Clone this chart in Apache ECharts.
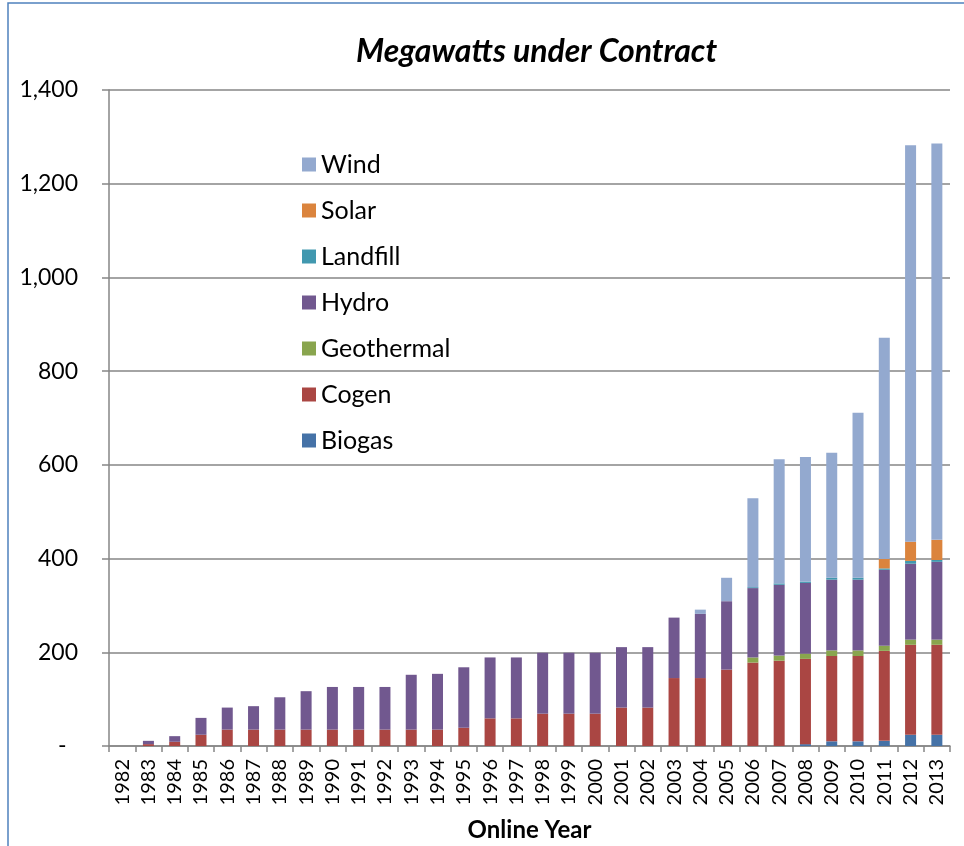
<!DOCTYPE html>
<html>
<head>
<meta charset="utf-8">
<script src="https://cdn.jsdelivr.net/npm/echarts@6/dist/echarts.min.js"></script>
<style>
html,body{margin:0;padding:0;background:#fff;overflow:hidden;}
#chart{width:964px;height:846px;}
</style>
</head>
<body>
<div id="chart"></div>
<script>
const years = ['1982','1983','1984','1985','1986','1987','1988','1989','1990','1991','1992','1993','1994','1995','1996','1997','1998','1999','2000','2001','2002','2003','2004','2005','2006','2007','2008','2009','2010','2011','2012','2013'];
const biogas     = [0,0,0,0,0,0,0,0,0,0,0,0,0,0,0,0,0,0,0,0,0,0,0,0,0,0,4,10,10,11,24,24];
const cogen      = [0,4,9,24,35,35,35,35,35,35,35,35,35,39,59,59,69,69,69,82,82,145,145,163,178,182,182,182,182,192,192,192];
const geothermal = [0,0,0,0,0,0,0,0,0,0,0,0,0,0,0,0,0,0,0,0,0,0,0,0,11,11,11,12,12,11,11,11];
const hydro      = [0,7,12,36,47,50,69,82,91,91,91,117,119,129,130,130,130,130,130,129,129,129,137,146,148,151,151,151,151,162,162,166];
const landfill   = [0,0,0,0,0,0,0,0,0,0,0,0,0,0,0,0,0,0,0,0,0,0,0,0,2,3,3,4,4,3,6,4];
const solar      = [0,0,0,0,0,0,0,0,0,0,0,0,0,0,0,0,0,0,0,0,0,0,0,0,0,0,0,0,0,20,41,43];
const wind       = [0,0,0,0,0,0,0,0,0,0,0,0,0,0,0,0,0,0,0,0,0,0,9,50,190,265,266,267,352,472,846,846];
const yTicks = [0,200,400,600,800,1000,1200,1400];

const FONT = 'Lato, "Open Sans", sans-serif';
const seriesDefs = [
  ['Biogas', biogas, '#4572A7'],
  ['Cogen', cogen, '#AA4643'],
  ['Geothermal', geothermal, '#89A54E'],
  ['Hydro', hydro, '#71588F'],
  ['Landfill', landfill, '#4198AF'],
  ['Solar', solar, '#DB843D'],
  ['Wind', wind, '#93A9CF']
];

const chart = echarts.init(document.getElementById('chart'), null, {renderer:'canvas'});
chart.setOption({
  animation: false,
  backgroundColor: '#fff',
  textStyle: {fontFamily: FONT},
  title: {
    text: 'Megawatts under Contract',
    left: 351, top: 31,
    textStyle: {fontFamily: FONT, fontSize: 32, fontWeight: 'bold', fontStyle: 'italic', color: '#000'}
  },
  graphic: [{
    type: 'rect', shape: {x: 8, y: 3, width: 1000, height: 900},
    style: {fill: 'none', stroke: '#4F81BD', lineWidth: 1.5}, silent: true, z: 100
  }],
  legend: {
    orient: 'vertical', left: 297, top: 147,
    itemWidth: 14, itemHeight: 14, itemGap: 21,
    icon: 'rect',
    data: ['Wind','Solar','Landfill','Hydro','Geothermal','Cogen','Biogas'],
    textStyle: {fontFamily: FONT, fontSize: 25, color: '#000'}
  },
  grid: {left: 109, right: 14, top: 90, bottom: 100, containLabel: false, outerBoundsMode: 'none'},
  xAxis: {
    type: 'category', data: years,
    axisLine: {lineStyle: {color: '#868686', width: 1.5}},
    axisTick: {show: true, length: 6, lineStyle: {color: '#868686', width: 1.5}},
    axisLabel: {rotate: 90, fontSize: 20, color: '#000', margin: 13, fontFamily: FONT, interval: 0},
    name: 'Online Year', nameLocation: 'middle', nameGap: 72,
    nameTextStyle: {fontFamily: FONT, fontSize: 24, fontWeight: 'bold', color: '#000'}
  },
  yAxis: {
    type: 'value', min: yTicks[0], max: yTicks[yTicks.length-1], interval: 200,
    axisLine: {show: true, lineStyle: {color: '#868686', width: 1.5}},
    axisTick: {show: true, length: 7, lineStyle: {color: '#868686', width: 1.5}},
    splitLine: {lineStyle: {color: '#868686', width: 1.5}},
    axisLabel: {
      fontSize: 23, color: '#000', margin: 31, fontFamily: FONT,
      formatter: v => v === 0 ? '-\u2002' : v.toLocaleString('en-US')
    }
  },
  series: seriesDefs.map(([name, data, color]) => ({
    name, type: 'bar', stack: 'total', data, barWidth: 11,
    itemStyle: {color},
    emphasis: {disabled: true}
  }))
});
</script>
</body>
</html>
